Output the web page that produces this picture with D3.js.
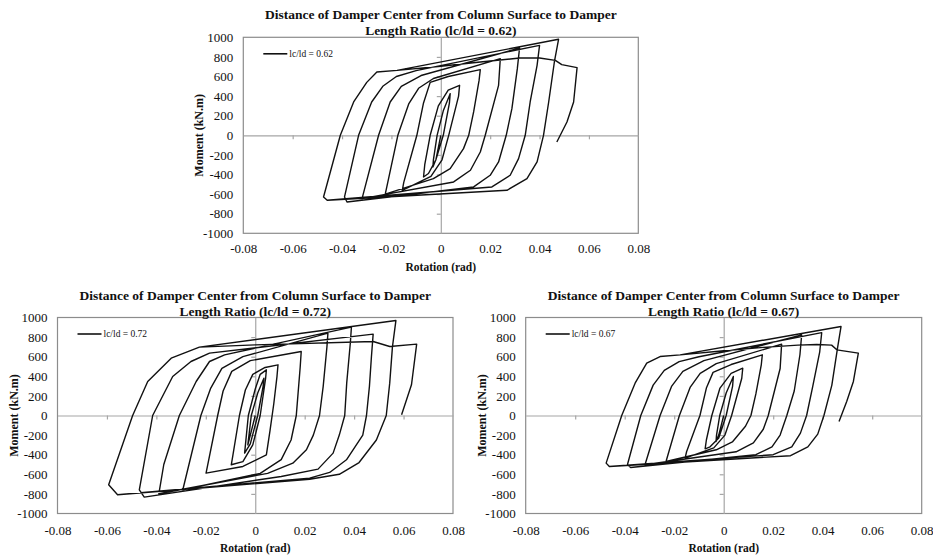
<!DOCTYPE html>
<html>
<head>
<meta charset="utf-8">
<script src="https://cdn.jsdelivr.net/npm/d3@7/dist/d3.min.js"></script>
<style>
  body { margin: 0; background: #fff; }
  svg { display: block; }
  text { font-family: "Liberation Serif", "Tinos", "Times New Roman", "DejaVu Serif", serif; fill: #111; }
</style>
</head>
<body>
<svg id="fig" width="933" height="556"></svg>
<script>
// axis ticks shared by the three panels
const xTicks = [-0.08, -0.06, -0.04, -0.02, 0, 0.02, 0.04, 0.06, 0.08];
const yTicks = [-1000, -800, -600, -400, -200, 0, 200, 400, 600, 800, 1000];

const titleLine1 = "Distance of Damper Center from Column Surface to Damper";
const ratioLabels = ["0.62", "0.72", "0.67"];
const xLabel = "Rotation (rad)";
const yLabel = "Moment (kN.m)";

// hysteresis curves [rotation, moment]
const hyst062 = [
  [0, 0], [-0.002, -250], [-0.0032, -323],
  [-0.003, -250], [-0.0015, 0], [0.001, 250], [0.0038, 425],
  [0.0035, 330], [0.001, 0], [-0.002, -250], [-0.005, -390], [-0.007, -425],
  [-0.0065, -300], [-0.0043, 0], [-0.001, 300], [0.003, 460], [0.0076, 510],
  [0.0072, 400], [0.0032, 0], [0.0005, -250], [-0.004, -420], [-0.0156, -561],
  [-0.015, -480], [-0.0097, 0], [-0.007, 330], [-0.0043, 540], [0.003, 600], [0.016, 670],
  [0.0155, 560], [0.0133, 238], [0.0113, 0], [0.0092, -136], [0.0038, -340], [-0.003, -442], [-0.0225, -600],
  [-0.0174, 0], [-0.013, 320], [-0.009, 480], [-0.003, 580], [0.0241, 782],
  [0.0234, 510], [0.018, 0], [0.016, -170], [0.012, -357], [0.0052, -476], [-0.0319, -646],
  [-0.0252, 0], [-0.0205, 340], [-0.016, 500], [-0.008, 610], [0.0319, 891],
  [0.031, 680], [0.0288, 272], [0.0265, 0], [0.0234, -272], [0.020, -408], [0.0133, -527], [-0.038, -680], [-0.039, -629],
  [-0.0333, 0], [-0.028, 340], [-0.0235, 500], [-0.018, 600], [-0.01, 660], [0.040, 918],
  [0.039, 714], [0.0362, 340], [0.0342, 0], [0.0315, -238], [0.0281, -408], [0.0207, -527], [-0.046, -663], [-0.0475, -629],
  [-0.0407, 0], [-0.0353, 340], [-0.030, 540], [-0.0259, 646], [-0.0177, 663], [0.0477, 980],
  [0.046, 748], [0.0437, 340], [0.0416, 0], [0.039, -272], [0.0349, -442], [0.0268, -561], [-0.046, -663], [-0.0475, -629],
  [-0.0407, 0], [-0.0353, 340], [-0.030, 540], [-0.0259, 646], [-0.0177, 663], [0, 705], [0.016, 748],
  [0.032, 789], [0.040, 789], [0.0464, 765], [0.049, 721], [0.0552, 690], [0.0538, 340], [0.0511, 136], [0.047, -68]
];

const hyst072 = [
  [0, 0], [-0.002, -200], [-0.003, -300],
  [-0.0016, 0], [0.001, 230], [0.0035, 380],
  [0.0032, 300], [0.001, 0], [-0.002, -290], [-0.0043, -384],
  [-0.0028, 0], [0, 270], [0.002, 420], [0.0045, 466],
  [0.0042, 380], [0.002, 0], [-0.001, -300], [-0.005, -470], [-0.0097, -503],
  [-0.009, -400], [-0.0064, 0], [-0.004, 260], [-0.001, 420], [0.004, 490], [0.0092, 517],
  [0.0088, 400], [0.0075, 120], [0.006, -150], [0.0045, -401], [-0.005, -520], [-0.0199, -588],
  [-0.0152, 0], [-0.013, 250], [-0.0095, 450], [-0.002, 560], [0.0186, 653],
  [0.0182, 500], [0.0166, 0], [0.0145, -250], [0.0105, -450], [0.002, -590], [-0.0293, -758],
  [-0.022, 0], [-0.018, 280], [-0.0135, 480], [-0.005, 600], [0.0294, 840],
  [0.029, 700], [0.0275, 300], [0.026, 0], [0.0235, -200], [0.0207, -350], [0.0152, -486], [0.005, -590], [-0.039, -799],
  [-0.037, -500], [-0.0307, 0], [-0.0239, 347], [-0.0185, 551], [-0.0124, 619], [0.0389, 902],
  [0.0385, 750], [0.037, 330], [0.0362, 0], [0.034, -200], [0.0315, -384], [0.0254, -547], [0.0105, -622], [-0.0449, -833], [-0.0469, -758],
  [-0.0415, 0], [-0.0334, 398], [-0.026, 551], [-0.0185, 636], [0.0477, 830],
  [0.047, 600], [0.0462, 300], [0.045, 0], [0.0435, -200], [0.0369, -452], [0.0301, -581], [0.022, -639], [-0.0557, -809], [-0.0593, -707],
  [-0.0496, 0], [-0.0435, 347], [-0.034, 585], [-0.0226, 698], [0.0569, 969],
  [0.0555, 700], [0.0544, 330], [0.053, 0], [0.049, -250], [0.042, -480], [0.034, -600], [0.022, -650], [-0.0557, -809], [-0.0593, -707],
  [-0.0496, 0], [-0.0435, 347], [-0.034, 585], [-0.0226, 698], [0, 721], [0.0477, 755], [0.0544, 704],
  [0.0653, 728], [0.0632, 313], [0.0592, 7]
];

const hyst067 = [
  [0, 0], [-0.002, -200], [-0.0031, -265],
  [-0.0029, -200], [-0.0016, 0], [0.001, 230], [0.0039, 398],
  [0.0036, 300], [0.001, 0], [-0.002, -230], [-0.0055, -320], [-0.0075, -340],
  [-0.007, -250], [-0.0048, 0], [-0.0015, 280], [0.003, 430], [0.0077, 483],
  [0.0073, 380], [0.0032, 0], [0.0005, -200], [-0.004, -330], [-0.0156, -435],
  [-0.015, -370], [-0.0096, 0], [-0.007, 280], [-0.0043, 440], [0.003, 520], [0.0156, 619],
  [0.0152, 520], [0.013, 220], [0.011, 0], [0.0088, -110], [0.0035, -270], [-0.003, -350], [-0.0233, -469],
  [-0.0179, 0], [-0.0135, 290], [-0.0095, 430], [-0.003, 530], [0.0234, 728],
  [0.0228, 480], [0.018, 0], [0.016, -140], [0.012, -280], [0.005, -370], [-0.0318, -503],
  [-0.0257, 0], [-0.021, 300], [-0.0165, 450], [-0.008, 560], [0.0315, 823],
  [0.0308, 620], [0.0285, 250], [0.0255, 0], [0.0228, -200], [0.0195, -320], [0.013, -400], [-0.0376, -530], [-0.0389, -503],
  [-0.0335, 0], [-0.0285, 310], [-0.024, 460], [-0.018, 550], [-0.01, 600], [0.0396, 846],
  [0.0388, 650], [0.036, 300], [0.0335, 0], [0.031, -180], [0.0275, -320], [0.02, -400], [-0.0462, -520], [-0.0475, -486],
  [-0.0412, 0], [-0.0358, 330], [-0.0311, 534], [-0.0257, 602], [-0.0176, 619], [0.0474, 908],
  [0.046, 690], [0.0437, 310], [0.0405, 0], [0.038, -190], [0.034, -320], [0.027, -410], [-0.0462, -520], [-0.0475, -486],
  [-0.0412, 0], [-0.0358, 330], [-0.0311, 534], [-0.0257, 602], [-0.0176, 619], [0, 660], [0.016, 695],
  [0.030, 718], [0.0376, 725], [0.0436, 718], [0.0457, 670], [0.0544, 636], [0.0524, 347], [0.0497, 143], [0.0466, -61]
];

const svg = d3.select("#fig");

function fmtX(d) { return d === 0 ? "0" : d.toFixed(2); }

function drawPanel(p) {
  const x = d3.scaleLinear().domain([-0.08, 0.08]).range([p.left, p.left + p.width]);
  const y = d3.scaleLinear().domain([-1000, 1000]).range([p.top + p.height, p.top]);
  const g = svg.append("g");

  // plot area border
  g.append("rect")
    .attr("x", p.left).attr("y", p.top)
    .attr("width", p.width).attr("height", p.height)
    .attr("fill", "none").attr("stroke", "#8c8c8c").attr("stroke-width", 1.2);

  // tick labels along the frame edges
  const xLab = g.append("g")
    .attr("transform", `translate(0,${p.top + p.height})`)
    .call(d3.axisBottom(x).tickValues(xTicks).tickSize(0).tickPadding(p.xPad).tickFormat(fmtX));
  xLab.select(".domain").remove();
  xLab.attr("font-family", null);
  xLab.selectAll("text").style("font-size", "13px").attr("fill", "#111");

  const yLab = g.append("g")
    .attr("transform", `translate(${p.left},0)`)
    .call(d3.axisLeft(y).tickValues(yTicks).tickSize(0).tickPadding(10).tickFormat(d => String(d)));
  yLab.select(".domain").remove();
  yLab.attr("font-family", null);
  yLab.selectAll("text").style("font-size", "13px").attr("fill", "#111");

  // axes crossing at zero, with small ticks
  const xZero = g.append("g")
    .attr("transform", `translate(0,${y(0)})`)
    .call(d3.axisBottom(x).tickValues(xTicks.filter(d => Math.abs(d) < 0.08)).tickSize(4).tickSizeOuter(0).tickFormat(""));
  const yZero = g.append("g")
    .attr("transform", `translate(${x(0)},0)`)
    .call(d3.axisLeft(y).tickValues(yTicks.filter(d => Math.abs(d) < 1000)).tickSize(4).tickSizeOuter(0).tickFormat(""));
  [xZero, yZero].forEach(a => {
    a.selectAll("path, line").attr("stroke", "#a6a6a6").attr("stroke-width", 1.2);
  });

  // curve
  const line = d3.line().x(d => x(d[0])).y(d => y(d[1]));
  g.append("path")
    .datum(p.data)
    .attr("d", line)
    .attr("fill", "none")
    .attr("stroke", "#111")
    .attr("stroke-width", 1.4)
    .attr("stroke-linejoin", "round");

  // legend
  const ly = p.top + 16.5;
  g.append("line")
    .attr("x1", p.left + 20).attr("x2", p.left + 44)
    .attr("y1", ly).attr("y2", ly)
    .attr("stroke", "#111").attr("stroke-width", 1.6);
  g.append("text")
    .attr("x", p.left + 46).attr("y", ly).attr("dy", "0.32em")
    .style("font-size", "9.5px")
    .text(`lc/ld = ${p.ratio}`);

  // titles
  const cx = p.left + p.width / 2;
  g.append("text")
    .attr("x", cx).attr("y", p.top - 18)
    .attr("text-anchor", "middle")
    .style("font-size", "13.5px").style("font-weight", "bold")
    .text(titleLine1);
  g.append("text")
    .attr("x", cx).attr("y", p.top - 2)
    .attr("text-anchor", "middle")
    .style("font-size", "13.5px").style("font-weight", "bold")
    .text(`Length Ratio (lc/ld = ${p.ratio})`);

  g.append("text")
    .attr("x", cx).attr("y", p.top + p.height + p.xTitle)
    .attr("text-anchor", "middle")
    .style("font-size", "11.5px").style("font-weight", "bold")
    .text(xLabel);

  g.append("text")
    .attr("transform", `translate(${p.left - 40},${p.top + p.height / 2}) rotate(-90)`)
    .attr("text-anchor", "middle")
    .style("font-size", "12px").style("font-weight", "bold")
    .text(yLabel);
}

drawPanel({ left: 243.3, top: 37.3, width: 395, height: 196, data: hyst062, ratio: ratioLabels[0], xPad: 10, xTitle: 38 });
drawPanel({ left: 57.5, top: 317.5, width: 395.5, height: 196, data: hyst072, ratio: ratioLabels[1], xPad: 12, xTitle: 38 });
drawPanel({ left: 525.7, top: 317.5, width: 396, height: 196, data: hyst067, ratio: ratioLabels[2], xPad: 12, xTitle: 38 });
</script>
</body>
</html>
